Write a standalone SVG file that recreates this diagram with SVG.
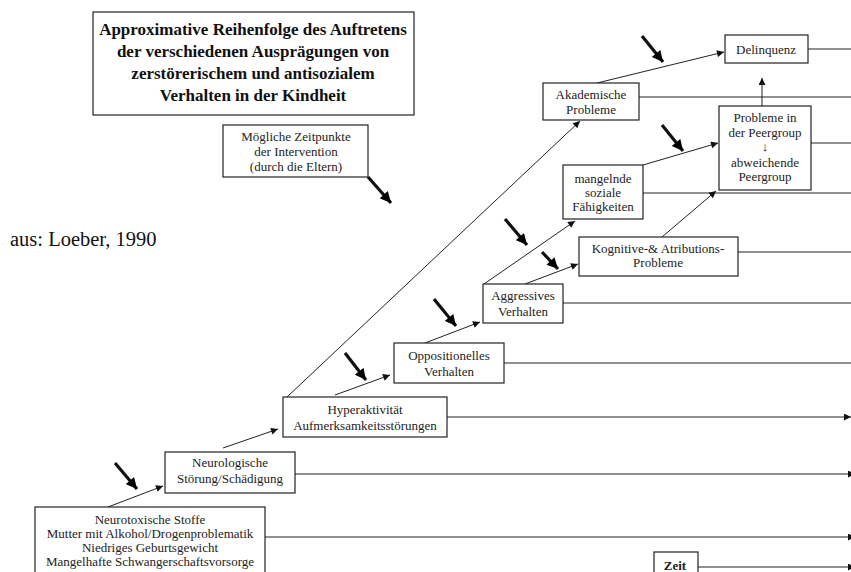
<svg xmlns="http://www.w3.org/2000/svg" width="851" height="572" viewBox="0 0 851 572">
<defs>
<style>
.box{fill:#fff;stroke:#222;stroke-width:1.2}
.t{font-family:"Liberation Serif","Times New Roman",serif;font-size:13px;fill:#222;text-anchor:middle}
.title{font-family:"Liberation Serif","Times New Roman",serif;font-size:17px;font-weight:bold;fill:#111;text-anchor:middle}
.c{stroke:#222;stroke-width:1;fill:none}
.thick{stroke:#111;stroke-width:3.2;fill:none}
</style>
<marker id="ah" viewBox="0 0 10 10" refX="10" refY="5" markerWidth="9" markerHeight="7" markerUnits="userSpaceOnUse" orient="auto">
<path d="M0,0 L10,5 L0,10 Z" fill="#111"/>
</marker>
<marker id="bh" viewBox="0 0 10 10" refX="10" refY="5" markerWidth="12" markerHeight="11" markerUnits="userSpaceOnUse" orient="auto">
<path d="M0,0 L10,5 L0,10 Z" fill="#000"/>
</marker>
</defs>
<rect width="851" height="572" fill="#fff"/>

<g id="connectors">
<!-- horizontal time lines -->
<line class="c" x1="808" y1="49" x2="860" y2="49" marker-end="url(#ah)"/>
<line class="c" x1="639" y1="97" x2="860" y2="97" marker-end="url(#ah)"/>
<line class="c" x1="811" y1="143" x2="860" y2="143" marker-end="url(#ah)"/>
<line class="c" x1="643" y1="193" x2="860" y2="193" marker-end="url(#ah)"/>
<line class="c" x1="738" y1="252" x2="860" y2="252" marker-end="url(#ah)"/>
<line class="c" x1="563" y1="303" x2="860" y2="303" marker-end="url(#ah)"/>
<line class="c" x1="504" y1="363" x2="860" y2="363" marker-end="url(#ah)"/>
<line class="c" x1="447" y1="417" x2="851" y2="417" marker-end="url(#ah)"/>
<line class="c" x1="295" y1="474" x2="855" y2="474" marker-end="url(#ah)"/>
<line class="c" x1="265" y1="537" x2="855" y2="537" marker-end="url(#ah)"/>
<line class="c" x1="698" y1="567" x2="855" y2="567" marker-end="url(#ah)"/>
<!-- progression arrows -->
<line class="c" x1="108" y1="507" x2="163" y2="486" marker-end="url(#ah)"/>
<line class="c" x1="223" y1="448" x2="278" y2="429" marker-end="url(#ah)"/>
<line class="c" x1="335" y1="395" x2="390" y2="375" marker-end="url(#ah)"/>
<line class="c" x1="287" y1="397" x2="580" y2="121" marker-end="url(#ah)"/>
<line class="c" x1="425" y1="343" x2="480" y2="322" marker-end="url(#ah)"/>
<line class="c" x1="484" y1="284" x2="575" y2="221" marker-end="url(#ah)"/>
<line class="c" x1="525" y1="284" x2="578" y2="264" marker-end="url(#ah)"/>
<line class="c" x1="662" y1="237" x2="716" y2="191" marker-end="url(#ah)"/>
<line class="c" x1="643" y1="165" x2="718" y2="143" marker-end="url(#ah)"/>
<line class="c" x1="597" y1="83" x2="724" y2="52" marker-end="url(#ah)"/>
<line class="c" x1="762" y1="106" x2="762" y2="78" marker-end="url(#ah)"/>
<!-- intervention arrows -->
<line class="thick" x1="368" y1="177" x2="391" y2="203" marker-end="url(#bh)"/>
<line class="thick" x1="642" y1="36" x2="663" y2="62" marker-end="url(#bh)"/>
<line class="thick" x1="662" y1="125" x2="683" y2="151" marker-end="url(#bh)"/>
<line class="thick" x1="505" y1="219" x2="527" y2="245" marker-end="url(#bh)"/>
<line class="thick" x1="542" y1="252" x2="558" y2="269" marker-end="url(#bh)"/>
<line class="thick" x1="434" y1="299" x2="456" y2="326" marker-end="url(#bh)"/>
<line class="thick" x1="345" y1="353" x2="366" y2="380" marker-end="url(#bh)"/>
<line class="thick" x1="115" y1="463" x2="137" y2="489" marker-end="url(#bh)"/>
</g>

<g id="title">
<rect class="box" x="93" y="12" width="321" height="103"/>
<text class="title" x="253" y="35">Approximative Reihenfolge des Auftretens</text>
<text class="title" x="253" y="57">der verschiedenen Ausprägungen von</text>
<text class="title" x="253" y="79">zerstörerischem und antisozialem</text>
<text class="title" x="253" y="101">Verhalten in der Kindheit</text>
</g>

<g id="intervention">
<rect class="box" x="223" y="125" width="145" height="52"/>
<text class="t" x="296" y="141">Mögliche Zeitpunkte</text>
<text class="t" x="296" y="156">der Intervention</text>
<text class="t" x="296" y="171">(durch die Eltern)</text>
</g>

<g id="source">
<text x="10" y="246" font-family="Liberation Serif, Times New Roman, serif" font-size="20.5" fill="#111">aus: Loeber, 1990</text>
</g>

<g id="delinquenz">
<rect class="box" x="725" y="35" width="83" height="28"/>
<text class="t" x="766" y="54">Delinquenz</text>
</g>

<g id="akademische">
<rect class="box" x="543" y="83" width="96" height="37"/>
<text class="t" x="591" y="99">Akademische</text>
<text class="t" x="591" y="114">Probleme</text>
</g>

<g id="peergroup">
<rect class="box" x="719" y="106" width="92" height="84"/>
<text class="t" x="765" y="122">Probleme in</text>
<text class="t" x="765" y="137">der Peergroup</text>
<text class="t" x="765" y="151">↓</text>
<text class="t" x="765" y="167">abweichende</text>
<text class="t" x="765" y="181">Peergroup</text>
</g>

<g id="soziale">
<rect class="box" x="563" y="165" width="80" height="54"/>
<text class="t" x="603" y="183">mangelnde</text>
<text class="t" x="603" y="197">soziale</text>
<text class="t" x="603" y="211">Fähigkeiten</text>
</g>

<g id="kognitive">
<rect class="box" x="579" y="237" width="159" height="39"/>
<text class="t" x="658" y="253">Kognitive-&amp; Atributions-</text>
<text class="t" x="658" y="267">Probleme</text>
</g>

<g id="aggressiv">
<rect class="box" x="483" y="284" width="80" height="39"/>
<text class="t" x="523" y="300">Aggressives</text>
<text class="t" x="523" y="316">Verhalten</text>
</g>

<g id="oppositionell">
<rect class="box" x="394" y="343" width="110" height="40"/>
<text class="t" x="449" y="360">Oppositionelles</text>
<text class="t" x="449" y="376">Verhalten</text>
</g>

<g id="hyperaktiv">
<rect class="box" x="283" y="397" width="164" height="40"/>
<text class="t" x="365" y="414">Hyperaktivität</text>
<text class="t" x="365" y="430">Aufmerksamkeitsstörungen</text>
</g>

<g id="neurologisch">
<rect class="box" x="165" y="452" width="130" height="41"/>
<text class="t" x="230" y="467">Neurologische</text>
<text class="t" x="230" y="483">Störung/Schädigung</text>
</g>

<g id="neurotoxisch">
<rect class="box" x="35" y="507" width="230" height="70"/>
<text class="t" x="150" y="524">Neurotoxische Stoffe</text>
<text class="t" x="150" y="538">Mutter mit Alkohol/Drogenproblematik</text>
<text class="t" x="150" y="552">Niedriges Geburtsgewicht</text>
<text class="t" x="150" y="566">Mangelhafte Schwangerschaftsvorsorge</text>
</g>

<g id="zeit">
<rect class="box" x="654" y="552" width="44" height="25"/>
<text class="t" x="675" y="570" font-weight="bold" font-size="11">Zeit</text>
</g>
</svg>
